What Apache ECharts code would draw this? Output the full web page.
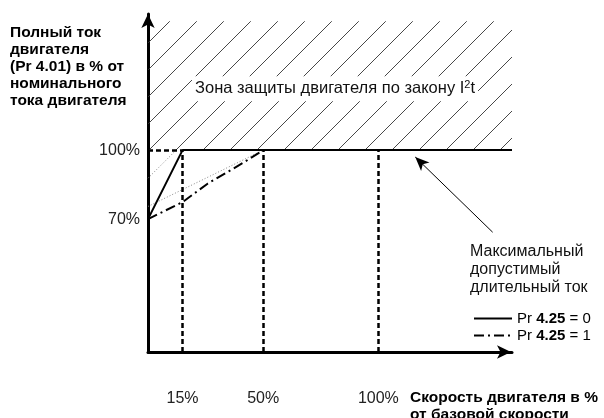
<!DOCTYPE html>
<html><head><meta charset="utf-8">
<script src="https://cdn.jsdelivr.net/npm/echarts@6/dist/echarts.min.js"></script>
<style>html,body{margin:0;padding:0;background:#fff}#c{width:604px;height:418px}</style>
</head><body><div id="c"></div>
<script>
// ---- data ----
const xMin = 0, xMax = 158;
const yMin = 12.2, yMax = 159.2;
const xTicks = [15, 50, 100];
const yTicks = [70, 100];
const solidX = [0, 15, 158];
const solidY = [70, 100, 100];
const dashDotX = [0, 15, 26, 34, 41, 50, 158];
const dashDotY = [70, 77.4, 85.5, 90.2, 94.3, 100, 100];
const refLinearX = [0, 50];
const refLinearY = [75.5, 100];
const refDiagX = [0, 12.2];
const refDiagY = [87.8, 100];
const zoneX = [0, 158];
const zoneY = [100, 156];
const guideX = [15, 50, 100];
const guideTop = 100;
const arrowFrom = [149.6, 64.3];
const arrowTo = [116, 97];
const legendNames = ['Pr 4.25 = 0', 'Pr 4.25 = 1'];

const pairs = (xs, ys) => xs.map((x, i) => [x, ys[i]]);

// hatch pattern
const tile = document.createElement('canvas');
tile.width = 27; tile.height = 27;
const g = tile.getContext('2d');
g.strokeStyle = '#333'; g.lineWidth = 0.9;
g.beginPath();
g.moveTo(2, 27); g.lineTo(27, 2);
g.moveTo(-1, 3); g.lineTo(3, -1);
g.stroke();

const FONT = 'Liberation Sans, Arial, sans-serif';
const chart = echarts.init(document.getElementById('c'), null, {renderer: 'canvas'});

const guideLines = guideX.map(x => [{coord: [x, yMin]}, {coord: [x, guideTop]}]);
guideLines.push([{coord: [0, guideTop]}, {coord: [guideX[0], guideTop]}]);

chart.setOption({
  animation: false,
  backgroundColor: '#fff',
  grid: {left: 148, right: 92, top: 14, bottom: 66},
  xAxis: {
    type: 'value', min: xMin, max: xMax,
    axisLine: {lineStyle: {color: '#000', width: 3}, symbol: ['none', 'arrow'], symbolSize: [10, 14], symbolOffset: [0, -1]},
    axisTick: {show: false},
    splitLine: {show: false},
    axisLabel: {customValues: xTicks, formatter: v => v + '%', margin: 39, fontSize: 16, color: '#222', fontFamily: FONT}
  },
  yAxis: {
    type: 'value', min: yMin, max: yMax,
    axisLine: {lineStyle: {color: '#000', width: 3}, symbol: ['none', 'arrow'], symbolSize: [10, 14]},
    axisTick: {show: false},
    splitLine: {show: false},
    axisLabel: {customValues: yTicks, formatter: v => v + '%', margin: 8, fontSize: 16, color: '#222', fontFamily: FONT}
  },
  legend: {
    orient: 'vertical', left: 468, top: 306, itemWidth: 38, itemHeight: 14, itemGap: 2,
    data: legendNames,
    itemStyle: {opacity: 0},
    formatter: n => {
      const p = n.split(' ');
      return '{n|Pr }{b|' + p[1] + '}{n| ' + p[2] + ' ' + p[3] + '}';
    },
    textStyle: {rich: {
      n: {fontSize: 15, fontFamily: FONT, color: '#000'},
      b: {fontSize: 15, fontFamily: FONT, color: '#000', fontWeight: 'bold'}
    }}
  },
  series: [
    {
      name: 'zone', type: 'line', data: [], silent: true,
      markArea: {
        silent: true,
        itemStyle: {color: {image: tile, repeat: 'repeat'}},
        label: {
          show: true, position: 'inside', offset: [5, 3],
          backgroundColor: '#fff', padding: [3, 3],
          formatter: '{a|Зона защиты двигателя по закону I}{s|2}{a|t}',
          rich: {
            a: {fontSize: 16.5, fontFamily: FONT, color: '#111'},
            s: {fontSize: 11, fontFamily: FONT, color: '#111', padding: [0, 0, 8, 0]}
          }
        },
        data: [[{coord: [zoneX[0], zoneY[0]]}, {coord: [zoneX[1], zoneY[1]]}]]
      },
      markLine: {
        silent: true, symbol: 'none', label: {show: false},
        lineStyle: {color: '#000', width: 2.5, type: [5, 3]},
        data: guideLines
      }
    },
    {
      name: 'refLinear', type: 'line', data: pairs(refLinearX, refLinearY), showSymbol: false, silent: true,
      lineStyle: {color: '#888', width: 1, type: [1, 2]}
    },
    {
      name: 'refDiag', type: 'line', data: pairs(refDiagX, refDiagY), showSymbol: false, silent: true,
      lineStyle: {color: '#888', width: 1, type: [1, 2]}
    },
    {
      name: legendNames[1], type: 'line', data: pairs(dashDotX, dashDotY), showSymbol: false, symbol: 'none',
      color: '#000', itemStyle: {color: '#000'},
      lineStyle: {color: '#000', width: 2, type: [10, 4, 2, 4]}
    },
    {
      name: legendNames[0], type: 'line', data: pairs(solidX, solidY), showSymbol: false, symbol: 'none',
      color: '#000', itemStyle: {color: '#000'},
      lineStyle: {color: '#000', width: 2, type: 'solid'},
      markLine: {
        silent: true, symbol: ['none', 'arrow'], symbolSize: [9, 14], label: {show: false},
        lineStyle: {color: '#000', width: 1, type: 'solid'},
        data: [[{coord: arrowFrom}, {coord: arrowTo}]]
      }
    }
  ],
  graphic: [
    {type: 'text', left: 10, top: 24, style: {
      text: 'Полный ток\nдвигателя\n(Pr 4.01) в % от\nноминального\nтока двигателя',
      font: 'bold 15.5px ' + FONT, lineHeight: 17, fill: '#000'}},
    {type: 'text', left: 470, top: 243, style: {
      text: 'Максимальный\nдопустимый\nдлительный ток',
      font: '16px ' + FONT, lineHeight: 18, fill: '#111'}},
    {type: 'text', left: 410, top: 389, style: {
      text: 'Скорость двигателя в %\nот базовой скорости',
      font: 'bold 15.5px ' + FONT, lineHeight: 17, fill: '#000'}}
  ]
});
</script></body></html>
